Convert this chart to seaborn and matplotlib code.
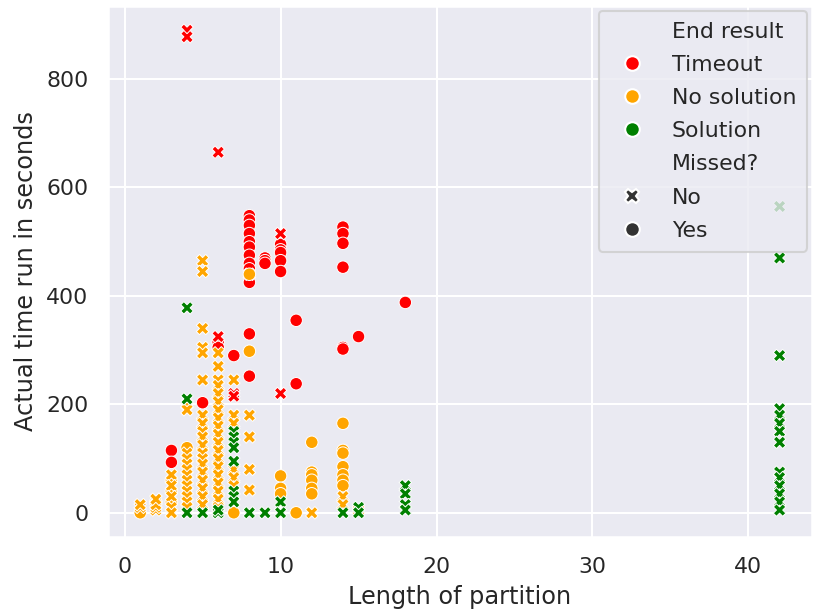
import matplotlib
matplotlib.use("Agg")
import matplotlib.pyplot as plt
from matplotlib.lines import Line2D
import pandas as pd
import seaborn as sns

# Timeout runs
timeout_yes_len = [3, 3, 5, 6, 6, 7,
                   8, 8, 8, 8, 8, 8, 8, 8, 8, 8, 8, 8,
                   9, 9, 9, 10, 10, 10, 10, 10, 11, 11,
                   14, 14, 14, 14, 14, 14, 15, 18]
timeout_yes_sec = [115, 93, 203, 315, 305, 290,
                   548, 540, 530, 515, 500, 490, 475, 460, 450, 425, 330, 252,
                   470, 465, 460, 495, 485, 480, 465, 445, 355, 238,
                   527, 515, 497, 453, 305, 302, 325, 388]
timeout_no_len = [4, 4, 6, 6, 7, 7, 8, 10, 10]
timeout_no_sec = [890, 878, 665, 325, 220, 215, 440, 515, 220]

# No solution runs
nosol_yes_len = [1, 2, 3, 3, 3, 4, 7, 8, 8, 10, 10, 10, 11,
                 12, 12, 12, 12, 12, 12, 14, 14, 14, 14, 14, 14, 14]
nosol_yes_sec = [0, 20, 60, 40, 20, 120, 0, 440, 298, 68, 45, 35, 0,
                 130, 75, 70, 60, 45, 35, 165, 115, 110, 85, 70, 60, 50]
nosol_no_len = ([1, 1, 2, 2, 2, 2, 3, 3, 3, 3, 3]
                + [4] * 13 + [5] * 19 + [6] * 19
                + [7, 7, 7, 7, 7, 7, 8, 8, 8, 8, 12, 14, 14, 15])
nosol_no_sec = ([10, 15, 5, 10, 15, 25, 70, 50, 30, 10, 0]
                + [200, 190, 110, 100, 90, 80, 70, 60, 50, 40, 30, 20, 10]
                + [465, 445, 340, 305, 295, 245, 180, 165, 150, 140, 125, 110,
                   100, 90, 75, 60, 45, 30, 15]
                + [295, 270, 245, 235, 220, 205, 190, 175, 160, 145, 130, 115,
                   100, 85, 70, 55, 40, 25, 10]
                + [245, 180, 165, 80, 65, 50, 180, 140, 80, 42, 0, 30, 15, 5])

# Solution runs
sol_no_len = ([4, 4, 4, 5, 6, 6, 7, 7, 7, 7, 7, 7, 7, 7, 8, 9, 10, 10, 14,
               15, 15, 18, 18, 18, 18] + [42] * 14)
sol_no_sec = ([378, 210, 0, 0, 0, 5, 150, 140, 130, 120, 95, 40, 30, 20, 0, 0,
               20, 0, 0, 10, 0, 50, 35, 15, 5]
              + [565, 470, 290, 192, 180, 165, 150, 130, 75, 65, 50, 35, 20, 5])

result_order = ["Timeout", "No solution", "Solution"]
result_colors = ["red", "orange", "green"]
missed_order = ["No", "Yes"]
missed_markers = ["X", "o"]


def block(lengths, secs, result, missed):
    return pd.DataFrame({
        "Length of partition": lengths,
        "Actual time run in seconds": secs,
        "End result": result,
        "Missed?": missed,
    })


df = pd.concat([
    block(timeout_yes_len, timeout_yes_sec, "Timeout", "Yes"),
    block(timeout_no_len, timeout_no_sec, "Timeout", "No"),
    block(nosol_yes_len, nosol_yes_sec, "No solution", "Yes"),
    block(nosol_no_len, nosol_no_sec, "No solution", "No"),
    block(sol_no_len, sol_no_sec, "Solution", "No"),
], ignore_index=True)

sns.set_theme(style="darkgrid", font_scale=0.96)

fig, ax = plt.subplots(figsize=(8.14 / 1.5, 6.15 / 1.5), dpi=150)
sns.scatterplot(
    data=df,
    x="Length of partition",
    y="Actual time run in seconds",
    hue="End result",
    hue_order=result_order,
    palette=result_colors,
    style="Missed?",
    style_order=missed_order,
    markers=dict(zip(missed_order, missed_markers)),
    ax=ax,
)

# hue entries as plain circles, style entries as bigger dark markers
handles, labels = ax.get_legend_handles_labels()
new_handles = []
for h, lab in zip(handles, labels):
    if lab in result_order:
        c = result_colors[result_order.index(lab)]
        h = Line2D([], [], marker="o", linestyle="", color=c,
                   markeredgecolor="white", markersize=7)
    elif lab in missed_order:
        m = missed_markers[missed_order.index(lab)]
        h = Line2D([], [], marker=m, linestyle="", color=".2",
                   markeredgecolor="white", markersize=7)
    new_handles.append(h)
ax.legend(new_handles, labels, loc="upper right", borderaxespad=0.2,
          labelspacing=0.6, borderpad=0.5)

fig.subplots_adjust(left=0.133, right=0.997, top=0.99, bottom=0.127)
plt.savefig("out.png")
